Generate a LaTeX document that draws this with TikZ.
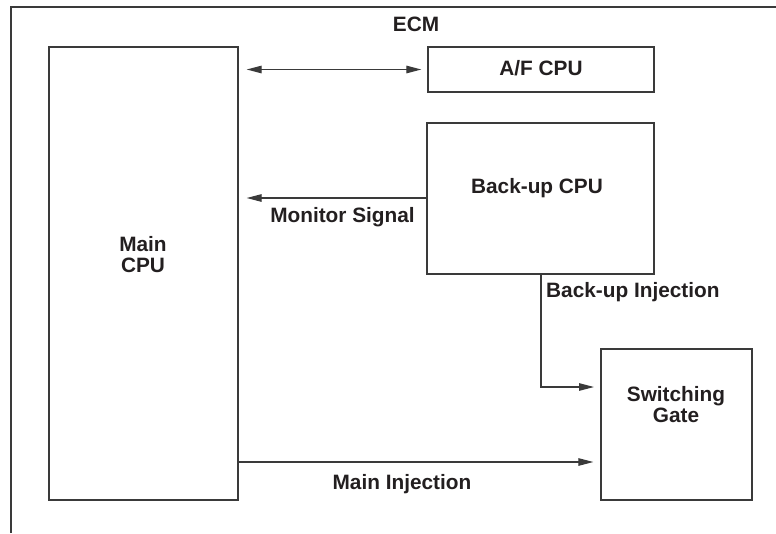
\documentclass[tikz,border=0pt]{standalone}
\usepackage{fontspec}
\setmainfont{Liberation Sans}
\usetikzlibrary{arrows.meta}
\definecolor{ln}{HTML}{3A3A3A}
\definecolor{tx}{HTML}{231F20}
\begin{document}
\begin{tikzpicture}[x=1pt,y=-1pt,
  box/.style={draw=ln, line width=1.3pt, inner sep=0pt, minimum width=#1},
  lbl/.style={anchor=base, inner sep=0pt, text=tx, align=center,
    font=\fontsize{20.8}{21}\selectfont\bfseries},
  conn/.style={draw=ln, line width=1.2pt},
  tip/.style={-{Triangle[length=15pt,width=7.5pt]}}]
\useasboundingbox (0,0) rectangle (776,533);
% outer ECM frame
\draw[ln, line width=1.4pt] (11,533) -- (11,7) -- (776,7);
% boxes
\node[box=189pt, minimum height=453pt] (main)   at (143.5,273.5) {};
\node[box=226pt, minimum height=45pt]  (af)     at (541,69.5) {};
\node[box=227pt, minimum height=151pt] (backup) at (540.5,198.5) {};
\node[box=151pt, minimum height=151pt] (gate)   at (676.5,424.5) {};
% texts
\node[lbl] (ecm)  at (416,31.5) {ECM};
\node[lbl] (tmain) at (143,272) {Main\\CPU};
\node[lbl] (taf)  at (541,75) {A/F CPU};
\node[lbl] (tbk)  at (537,193) {Back-up CPU};
\node[lbl] (tgate) at (676,422) {Switching\\Gate};
\node[lbl] (tmon) at (342.5,222) {Monitor Signal};
\node[lbl, anchor=base west] (tbi) at (546,297) {Back-up Injection};
\node[lbl] (tmi)  at (402,489) {Main Injection};
% connectors
\draw[conn, {Triangle[length=15pt,width=7.5pt]}-{Triangle[length=15pt,width=7.5pt]},
  shorten <=8pt, shorten >=6pt] (main.east |- af.west) -- (af.west);
\draw[conn, tip, shorten >=8pt] (backup.west |- 0,198) -- (main.east |- 0,198);
\coordinate (bi) at (601,387);
\draw[conn, tip, shorten >=7pt] (backup.south -| 541,0) |- (bi);
\draw[conn, tip, shorten >=7pt] (main.east |- 0,462) -- (gate.west |- 0,462);
\end{tikzpicture}
\end{document}
